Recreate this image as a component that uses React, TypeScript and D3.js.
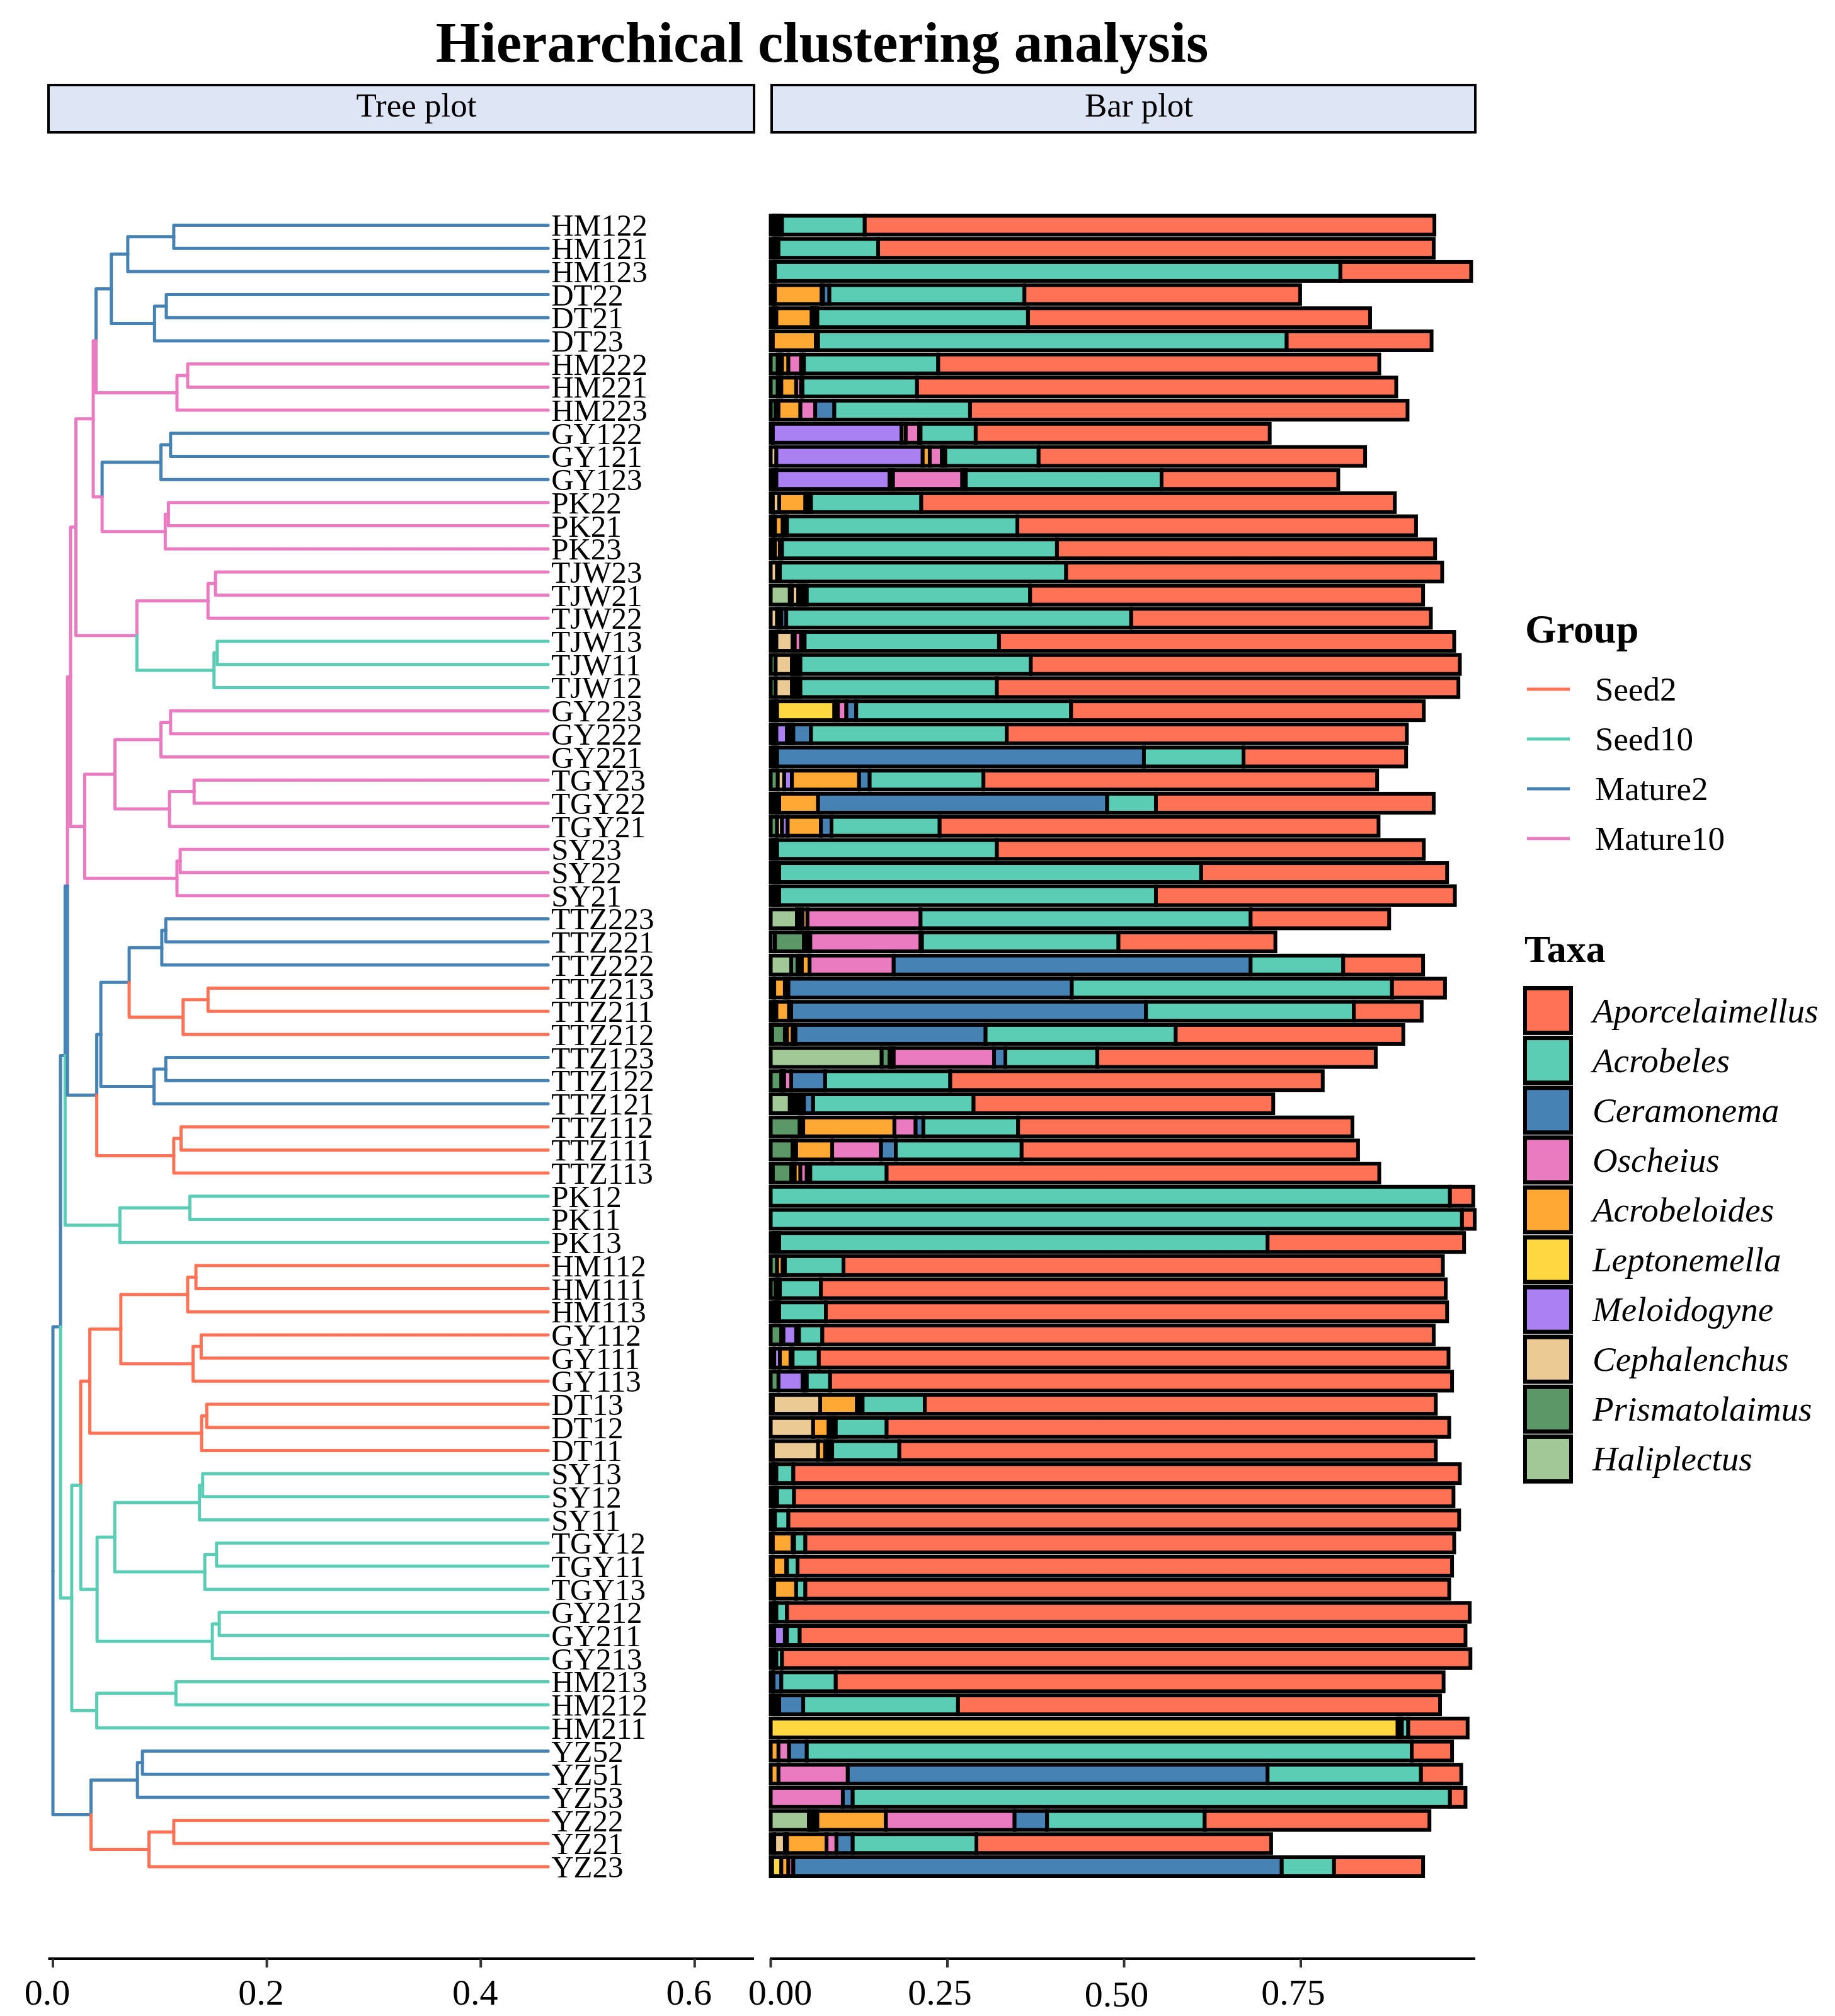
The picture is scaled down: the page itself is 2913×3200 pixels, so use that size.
import * as d3 from "d3";
import React from "react";

// samples in tree (top -> bottom) order
const samples = [
  "HM122", "HM121", "HM123", "DT22", "DT21", "DT23", "HM222", "HM221", "HM223", "GY122", "GY121", "GY123",
  "PK22", "PK21", "PK23", "TJW23", "TJW21", "TJW22", "TJW13", "TJW11", "TJW12", "GY223", "GY222", "GY221",
  "TGY23", "TGY22", "TGY21", "SY23", "SY22", "SY21", "TTZ223", "TTZ221", "TTZ222", "TTZ213", "TTZ211", "TTZ212",
  "TTZ123", "TTZ122", "TTZ121", "TTZ112", "TTZ111", "TTZ113", "PK12", "PK11", "PK13", "HM112", "HM111", "HM113",
  "GY112", "GY111", "GY113", "DT13", "DT12", "DT11", "SY13", "SY12", "SY11", "TGY12", "TGY11", "TGY13",
  "GY212", "GY211", "GY213", "HM213", "HM212", "HM211", "YZ52", "YZ51", "YZ53", "YZ22", "YZ21", "YZ23",
];

const sampleGroup = [
  "M2", "M2", "M2", "M2", "M2", "M2", "M10", "M10", "M10", "M2", "M2", "M2",
  "M10", "M10", "M10", "M10", "M10", "M10", "S10", "S10", "S10", "M10", "M10", "M10",
  "M10", "M10", "M10", "M10", "M10", "M10", "M2", "M2", "M2", "S2", "S2", "S2",
  "M2", "M2", "M2", "S2", "S2", "S2", "S10", "S10", "S10", "S2", "S2", "S2",
  "S2", "S2", "S2", "S2", "S2", "S2", "S10", "S10", "S10", "S10", "S10", "S10",
  "S10", "S10", "S10", "S10", "S10", "S10", "M2", "M2", "M2", "S2", "S2", "S2",
];

const groupKeys = ["S2", "S10", "M2", "M10"];
const groupNames = ["Seed2", "Seed10", "Mature2", "Mature10"];
const groupColors = ["#FF7256", "#5CCDB5", "#4682B4", "#EB7BC0"];

const taxa = [
  "Aporcelaimellus", "Acrobeles", "Ceramonema", "Oscheius", "Acrobeloides",
  "Leptonemella", "Meloidogyne", "Cephalenchus", "Prismatolaimus", "Haliplectus",
];
const taxaColors = [
  "#FF7256", "#5CCDB5", "#4682B4", "#EB7BC0", "#FFA934",
  "#FFD740", "#AB80F3", "#EBCB93", "#5B9767", "#A2C897",
];

// relative abundance per taxon, one value per sample (same order as samples)
const aporcelaimellus = [
  0.806, 0.786, 0.185, 0.390, 0.484, 0.205, 0.624, 0.678, 0.619, 0.416, 0.462, 0.250,
  0.670, 0.564, 0.535, 0.532, 0.556, 0.424, 0.644, 0.607, 0.653, 0.499, 0.566, 0.230,
  0.557, 0.393, 0.621, 0.604, 0.348, 0.423, 0.196, 0.222, 0.113, 0.075, 0.096, 0.322,
  0.394, 0.527, 0.424, 0.473, 0.476, 0.697, 0.033, 0.018, 0.278, 0.848, 0.884, 0.879,
  0.865, 0.891, 0.880, 0.723, 0.796, 0.759, 0.943, 0.933, 0.949, 0.918, 0.926, 0.911,
  0.966, 0.942, 0.974, 0.860, 0.682, 0.084, 0.057, 0.057, 0.022, 0.318, 0.417, 0.126,
];
const acrobeles = [
  0.117, 0.141, 0.800, 0.276, 0.298, 0.663, 0.190, 0.162, 0.192, 0.078, 0.132, 0.277,
  0.156, 0.326, 0.389, 0.405, 0.316, 0.488, 0.275, 0.326, 0.278, 0.304, 0.277, 0.141,
  0.161, 0.069, 0.153, 0.311, 0.597, 0.533, 0.467, 0.278, 0.131, 0.453, 0.294, 0.269,
  0.130, 0.177, 0.227, 0.134, 0.178, 0.108, 0.961, 0.978, 0.691, 0.083, 0.058, 0.066,
  0.033, 0.037, 0.033, 0.088, 0.072, 0.095, 0.024, 0.024, 0.019, 0.016, 0.015, 0.013,
  0.015, 0.018, 0.008, 0.077, 0.219, 0.009, 0.856, 0.217, 0.845, 0.223, 0.175, 0.074,
];
const ceramonema = [
  0.004, 0.003, 0.003, 0.009, 0.004, 0.003, 0.004, 0.002, 0.027, 0.002, 0.005, 0.005,
  0.004, 0.003, 0.003, 0.002, 0.004, 0.007, 0.005, 0, 0, 0.014, 0.025, 0.519,
  0.015, 0.409, 0.015, 0.003, 0.004, 0.004, 0, 0.002, 0.505, 0.401, 0.502, 0.269,
  0.016, 0.048, 0.013, 0.011, 0.021, 0.005, 0, 0, 0.004, 0.003, 0.003, 0.004,
  0.002, 0.003, 0.003, 0.004, 0.005, 0.005, 0, 0.003, 0, 0.002, 0.001, 0,
  0, 0, 0, 0.011, 0.034, 0.003, 0.025, 0.594, 0.014, 0.046, 0.023, 0.691,
];
const oscheius = [
  0.004, 0, 0, 0.002, 0.004, 0, 0.018, 0.007, 0.021, 0.019, 0.017, 0.098,
  0.004, 0.003, 0, 0, 0.004, 0.003, 0.009, 0.004, 0.004, 0.012, 0.003, 0.003,
  0, 0, 0, 0, 0, 0, 0.160, 0.156, 0.119, 0.005, 0.003, 0.004,
  0.142, 0.010, 0.005, 0.030, 0.069, 0.009, 0, 0, 0, 0, 0, 0,
  0, 0, 0, 0.004, 0.005, 0.005, 0, 0, 0, 0, 0, 0,
  0, 0, 0, 0, 0.004, 0, 0.015, 0.098, 0.102, 0.182, 0.014, 0.007,
];
const acrobeloides = [
  0.004, 0.004, 0.003, 0.066, 0.050, 0.061, 0.009, 0.021, 0.031, 0.006, 0.010, 0.005,
  0.037, 0.011, 0.007, 0.002, 0.004, 0.003, 0.003, 0.004, 0.004, 0.005, 0.003, 0.003,
  0.095, 0.055, 0.047, 0.003, 0.004, 0.004, 0.007, 0.003, 0.011, 0.015, 0.018, 0.008,
  0.003, 0.002, 0.005, 0.129, 0.051, 0.008, 0, 0, 0.004, 0.008, 0.003, 0.004,
  0.002, 0.015, 0.003, 0.052, 0.022, 0.010, 0.004, 0.003, 0.003, 0.028, 0.019, 0.031,
  0.004, 0.003, 0.004, 0.002, 0.004, 0.003, 0.011, 0.011, 0, 0.097, 0.056, 0.010,
];
const leptonemella = [
  0, 0, 0, 0, 0, 0, 0, 0, 0, 0, 0, 0,
  0, 0, 0, 0, 0, 0, 0, 0, 0, 0.081, 0.003, 0,
  0, 0, 0, 0, 0, 0, 0, 0, 0, 0, 0, 0,
  0, 0, 0, 0, 0, 0, 0, 0, 0, 0, 0, 0,
  0, 0, 0, 0, 0, 0, 0, 0, 0, 0, 0, 0,
  0, 0, 0, 0, 0, 0.887, 0, 0, 0, 0, 0, 0.013,
];
const meloidogyne = [
  0, 0, 0, 0, 0, 0, 0.003, 0, 0, 0.182, 0.207, 0.160,
  0, 0, 0, 0, 0, 0, 0, 0.004, 0.004, 0.003, 0.015, 0,
  0.011, 0.004, 0.008, 0, 0, 0, 0, 0.003, 0.003, 0, 0, 0,
  0, 0, 0, 0, 0, 0, 0, 0, 0, 0, 0, 0,
  0.018, 0.008, 0.034, 0, 0, 0, 0, 0, 0, 0, 0, 0,
  0, 0.015, 0, 0, 0, 0, 0, 0, 0, 0.004, 0.003, 0,
];
const cephalenchus = [
  0, 0, 0, 0.003, 0.004, 0, 0.003, 0.005, 0.004, 0, 0.008, 0.004,
  0.009, 0.003, 0.003, 0.009, 0.009, 0.009, 0.023, 0.023, 0.023, 0.003, 0.004, 0,
  0.009, 0.004, 0.007, 0, 0, 0, 0.004, 0.003, 0.003, 0, 0.004, 0.003,
  0.003, 0.002, 0.005, 0.005, 0.005, 0.005, 0, 0, 0, 0, 0, 0,
  0.003, 0, 0, 0.067, 0.060, 0.064, 0, 0, 0, 0, 0, 0,
  0, 0, 0, 0, 0, 0, 0, 0, 0, 0.004, 0.015, 0,
];
const prismatolaimus = [
  0.004, 0.004, 0, 0.003, 0.004, 0.003, 0.010, 0.010, 0.007, 0.003, 0, 0.004,
  0.003, 0.003, 0.003, 0, 0.003, 0, 0.004, 0.007, 0.007, 0.003, 0.004, 0.003,
  0.010, 0.004, 0.009, 0.003, 0.004, 0.004, 0.004, 0.041, 0.009, 0.005, 0.004, 0.018,
  0.011, 0.015, 0.005, 0.041, 0.031, 0.026, 0, 0, 0.004, 0.009, 0.007, 0.004,
  0.015, 0.005, 0.011, 0.003, 0, 0.003, 0.004, 0.003, 0.003, 0.003, 0.003, 0.005,
  0.004, 0.005, 0.004, 0.002, 0.004, 0, 0, 0, 0, 0.004, 0.005, 0.002,
];
const haliplectus = [
  0, 0, 0, 0, 0, 0, 0, 0, 0, 0, 0, 0,
  0, 0, 0, 0, 0.027, 0, 0.004, 0, 0, 0, 0, 0,
  0, 0, 0, 0, 0, 0, 0.037, 0.006, 0.029, 0, 0, 0.002,
  0.157, 0, 0.027, 0, 0, 0.003, 0, 0, 0, 0, 0, 0,
  0, 0, 0, 0, 0, 0, 0, 0, 0, 0, 0, 0,
  0, 0, 0, 0, 0, 0, 0, 0, 0, 0.054, 0, 0,
];

// dendrogram: [node, position from root, group colour, child A, child B]
const tipHeight = 0.463;
const treeNodes: [string, number, string, string, string][] = [
  ["root", 0, "M2", "X0", "YZ"],
  ["X0", 0.0071, "M2", "Y", "X1"],
  ["Y", 0.0114, "M2", "U", "PK1"],
  ["U", 0.0136, "M2", "S", "V"],
  ["S", 0.0165, "M10", "P3", "T"],
  ["P3", 0.0215, "M10", "P2", "R"],
  ["P2", 0.0377, "M10", "P1", "Q"],
  ["P1", 0.0403, "M10", "A", "HM22"],
  ["A", 0.0546, "M2", "HM12", "DT2"],
  ["HM12", 0.070, "M2", "hm12a", "HM123"],
  ["hm12a", 0.113, "M2", "HM122", "HM121"],
  ["DT2", 0.095, "M2", "dt2a", "DT23"],
  ["dt2a", 0.106, "M2", "DT22", "DT21"],
  ["HM22", 0.116, "M10", "hm22a", "HM223"],
  ["hm22a", 0.126, "M10", "HM222", "HM221"],
  ["Q", 0.046, "M10", "GY12", "PK2"],
  ["GY12", 0.101, "M2", "gy12a", "GY123"],
  ["gy12a", 0.110, "M2", "GY122", "GY121"],
  ["PK2", 0.105, "M10", "pk2a", "PK23"],
  ["pk2a", 0.108, "M10", "PK22", "PK21"],
  ["R", 0.0785, "M10", "TJW2", "TJW1"],
  ["TJW2", 0.145, "M10", "tjw2a", "TJW22"],
  ["tjw2a", 0.152, "M10", "TJW23", "TJW21"],
  ["TJW1", 0.1506, "S10", "tjw1a", "TJW12"],
  ["tjw1a", 0.1536, "S10", "TJW13", "TJW11"],
  ["T", 0.0297, "M10", "T1", "SY2"],
  ["T1", 0.058, "M10", "GY22", "TGY2"],
  ["GY22", 0.101, "M10", "gy22a", "GY221"],
  ["gy22a", 0.110, "M10", "GY223", "GY222"],
  ["TGY2", 0.109, "M10", "tgy2a", "TGY21"],
  ["tgy2a", 0.132, "M10", "TGY23", "TGY22"],
  ["SY2", 0.116, "M10", "sy2a", "SY21"],
  ["sy2a", 0.119, "M10", "SY23", "SY22"],
  ["V", 0.041, "M2", "V2", "TTZ11"],
  ["V2", 0.0448, "M2", "V1", "TTZ12"],
  ["V1", 0.0713, "M2", "TTZ22", "TTZ21"],
  ["TTZ22", 0.1018, "M2", "ttz22a", "TTZ222"],
  ["ttz22a", 0.1055, "M2", "TTZ223", "TTZ221"],
  ["TTZ21", 0.1217, "S2", "ttz21a", "TTZ212"],
  ["ttz21a", 0.145, "S2", "TTZ213", "TTZ211"],
  ["TTZ12", 0.0945, "M2", "ttz12a", "TTZ121"],
  ["ttz12a", 0.1055, "M2", "TTZ123", "TTZ122"],
  ["TTZ11", 0.113, "S2", "ttz11a", "TTZ113"],
  ["ttz11a", 0.1198, "S2", "TTZ112", "TTZ111"],
  ["PK1", 0.0626, "S10", "pk1a", "PK13"],
  ["pk1a", 0.128, "S10", "PK12", "PK11"],
  ["X1", 0.0176, "S10", "X2", "HM21"],
  ["X2", 0.026, "S10", "O", "Z"],
  ["O", 0.0345, "S2", "O1", "DT1"],
  ["O1", 0.0635, "S2", "HM11", "GY11"],
  ["HM11", 0.126, "S2", "hm11a", "HM113"],
  ["hm11a", 0.1337, "S2", "HM112", "HM111"],
  ["GY11", 0.131, "S2", "gy11a", "GY113"],
  ["gy11a", 0.1386, "S2", "GY112", "GY111"],
  ["DT1", 0.139, "S2", "dt1a", "DT11"],
  ["dt1a", 0.1438, "S2", "DT13", "DT12"],
  ["Z", 0.0413, "S10", "Z1", "GY21"],
  ["Z1", 0.0578, "S10", "SY1", "TGY1"],
  ["SY1", 0.137, "S10", "sy1a", "SY11"],
  ["sy1a", 0.140, "S10", "SY13", "SY12"],
  ["TGY1", 0.142, "S10", "tgy1a", "TGY13"],
  ["tgy1a", 0.153, "S10", "TGY12", "TGY11"],
  ["GY21", 0.149, "S10", "gy21a", "GY213"],
  ["gy21a", 0.1555, "S10", "GY212", "GY211"],
  ["HM21", 0.041, "S10", "hm21a", "HM211"],
  ["hm21a", 0.115, "S10", "HM213", "HM212"],
  ["YZ", 0.0356, "M2", "YZ5", "YZ2"],
  ["YZ5", 0.079, "M2", "yz5a", "YZ53"],
  ["yz5a", 0.0837, "M2", "YZ52", "YZ51"],
  ["YZ2", 0.0898, "S2", "yz2a", "YZ23"],
  ["yz2a", 0.113, "S2", "YZ22", "YZ21"],
];

const treeTicks = [0, 0.2, 0.4, 0.6];
const barTicks = [0, 0.25, 0.5, 0.75];

const FONT = "'Liberation Serif', 'Times New Roman', serif";

interface TNode {
  name: string;
  x: number;
  group: string;
  children?: TNode[];
}

export default function App() {
  const W = 2913;
  const H = 3200;

  const y = d3
    .scaleBand<string>()
    .domain(samples)
    .range([357.5 - 18.35, 2963 + 18.35])
    .paddingInner(0.1826)
    .paddingOuter(0.0913);
  const yc = (s: string) => (y(s) as number) + y.bandwidth() / 2;

  const xTree = d3.scaleLinear().domain([0, 0.6]).range([84, 84 + 0.6 * 1698]);
  const xBar = d3.scaleLinear().domain([0, 1]).range([1223.5, 2345.5]);

  const color = (g: string) => groupColors[groupKeys.indexOf(g)];
  const taxColor = (t: string) => taxaColors[taxa.indexOf(t)];

  // ---- tree
  const nodeMap = new Map(treeNodes.map((n) => [n[0], n]));
  const build = (id: string): TNode => {
    const n = nodeMap.get(id);
    if (!n) return { name: id, x: tipHeight, group: sampleGroup[samples.indexOf(id)] };
    return { name: id, x: n[1], group: n[2], children: [build(n[3]), build(n[4])] };
  };
  const root = d3.hierarchy<TNode>(build("root"));
  const ypos = new Map<any, number>();
  root.eachAfter((d) => {
    if (!d.children) ypos.set(d, yc(d.data.name));
    else ypos.set(d, d3.mean(d.children, (c) => ypos.get(c) as number) as number);
  });
  const branches = root.descendants().filter((d) => d.parent);

  // ---- bars
  const series: Record<string, number[]> = {
    Aporcelaimellus: aporcelaimellus,
    Acrobeles: acrobeles,
    Ceramonema: ceramonema,
    Oscheius: oscheius,
    Acrobeloides: acrobeloides,
    Leptonemella: leptonemella,
    Meloidogyne: meloidogyne,
    Cephalenchus: cephalenchus,
    Prismatolaimus: prismatolaimus,
    Haliplectus: haliplectus,
  };
  const rows = samples.map((s, i) => {
    const r: any = { sample: s };
    taxa.forEach((t) => (r[t] = series[t][i]));
    return r;
  });
  const stackKeys = [...taxa].reverse(); // first level ends up on the right
  const stacked = d3.stack<any>().keys(stackKeys)(rows);

  const keyTop = 1565;
  const keyStep = 79.1;

  return (
    <svg
      width={W}
      height={H}
      viewBox={`0 0 ${W} ${H}`}
      style={{ position: "absolute", left: 0, top: 0, background: "#fff" }}
      fontFamily={FONT}
    >
      <rect width={W} height={H} fill="#fff" />

      <text x={1305} y={98} fontSize={91} fontWeight="bold" textAnchor="middle">
        Hierarchical clustering analysis
      </text>

      {/* strips */}
      <rect x={77} y={135} width={1120} height={75} fill="#DEE5F4" stroke="#000" strokeWidth={4} />
      <text x={661} y={185} fontSize={53} textAnchor="middle">Tree plot</text>
      <rect x={1225} y={135} width={1117} height={75} fill="#DEE5F4" stroke="#000" strokeWidth={4} />
      <text x={1808} y={185} fontSize={53} textAnchor="middle">Bar plot</text>

      {/* tree branches */}
      <g fill="none" strokeWidth={5} strokeLinecap="round" strokeLinejoin="round">
        {branches.map((d, i) => {
          const p = d.parent!;
          const px = xTree(p.data.x);
          const py = ypos.get(p) as number;
          const ny = ypos.get(d) as number;
          return (
            <path
              key={i}
              d={`M${px},${py}V${ny}H${xTree(d.data.x)}`}
              stroke={color(d.data.group)}
            />
          );
        })}
      </g>
      <g fontSize={49}>
        {samples.map((s) => (
          <text key={s} x={xTree(tipHeight) + 5} y={yc(s) + 17}>
            {s}
          </text>
        ))}
      </g>

      {/* stacked bars */}
      <g stroke="#000" strokeWidth={6}>
        {stacked.map((layer) =>
          layer.map((d, i) =>
            d[1] - d[0] > 0 ? (
              <rect
                key={layer.key + i}
                x={xBar(d[0])}
                y={y(samples[i])}
                width={xBar(d[1]) - xBar(d[0])}
                height={y.bandwidth()}
                fill={taxColor(layer.key)}
              />
            ) : null
          )
        )}
      </g>

      {/* axes */}
      <g>
        <line x1={76.5} x2={1197} y1={3109} y2={3109} stroke="#000" strokeWidth={4} />
        {treeTicks.map((t) => (
          <g key={t}>
            <line x1={xTree(t)} x2={xTree(t)} y1={3109} y2={3123} stroke="#333" strokeWidth={4} />
            <text x={xTree(t) - 9} y={3182} fontSize={58} textAnchor="middle">
              {d3.format(".1f")(t)}
            </text>
          </g>
        ))}
        <line x1={1222} x2={2342} y1={3109} y2={3109} stroke="#000" strokeWidth={4} />
        {barTicks.map((t, i) => (
          <g key={t}>
            <line x1={xBar(t)} x2={xBar(t)} y1={3109} y2={3123} stroke="#333" strokeWidth={4} />
            <text
              x={xBar(t) + (i === 0 ? 15 : -12)}
              y={t === 0.5 ? 3185 : 3182}
              fontSize={58}
              textAnchor="middle"
            >
              {d3.format(".2f")(t)}
            </text>
          </g>
        ))}
      </g>

      {/* legend: group */}
      <text x={2421} y={1020} fontSize={64} fontWeight="bold">Group</text>
      {groupNames.map((g, i) => {
        const ly = 1094 + i * 79;
        return (
          <g key={g}>
            <line x1={2424} x2={2492} y1={ly} y2={ly} stroke={groupColors[i]} strokeWidth={5} />
            <text x={2532} y={ly + 18} fontSize={53}>{g}</text>
          </g>
        );
      })}

      {/* legend: taxa */}
      <text x={2420} y={1527} fontSize={62} fontWeight="bold">Taxa</text>
      {taxa.map((t, i) => {
        const ky = keyTop + i * keyStep;
        return (
          <g key={t}>
            <rect x={2418} y={ky} width={79} height={keyStep - 1.2} fill="#000" />
            <rect x={2424} y={ky + 7} width={67} height={keyStep - 15} fill={taxaColors[i]} />
            <text x={2528} y={ky + keyStep / 2 + 18} fontSize={55} fontStyle="italic">
              {t}
            </text>
          </g>
        );
      })}
    </svg>
  );
}
